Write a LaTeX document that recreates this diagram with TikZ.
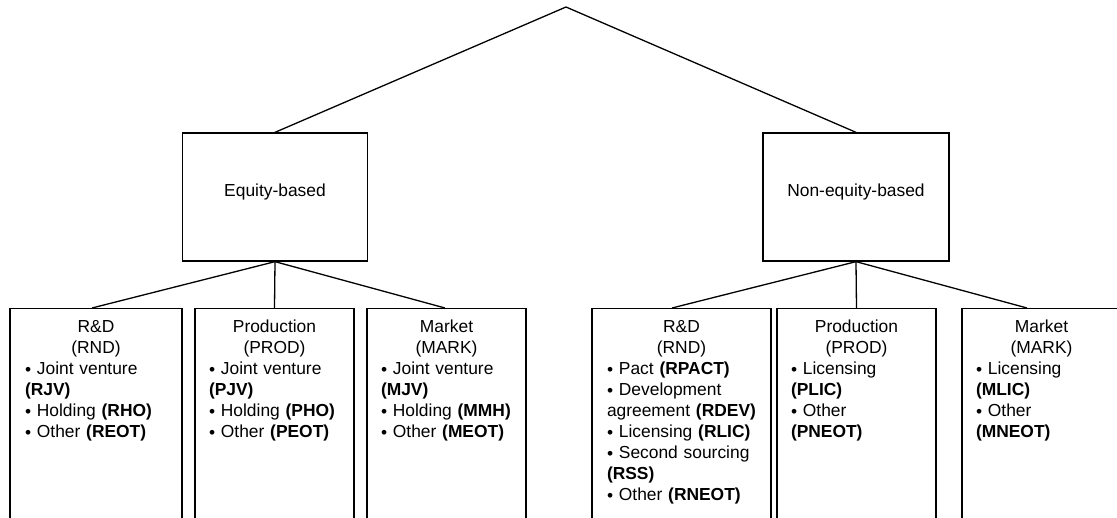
\documentclass[tikz,border=0pt]{standalone}
\usepackage{fontspec}
\setmainfont{Liberation Sans}
\usetikzlibrary{positioning}

\newcommand{\leafdot}{\raisebox{-1pt}{\textbullet}}

\tikzset{
  catbox/.style={draw, line width=1.3pt, minimum height=128pt, inner sep=0pt},
  leafbox/.style={draw, line width=1.3pt, minimum height=210pt, anchor=north, inner sep=0pt},
  leaftext/.style={anchor=base, align=left, inner sep=0pt},
  link/.style={line width=1.3pt}
}

\begin{document}
\begin{tikzpicture}[x=1pt, y=-1pt, font=\fontsize{17.4pt}{21pt}\selectfont]
            \clip (0,0) rectangle (1117,518);
            \coordinate (top) at (566,7);

            % two categories
            \node[catbox, minimum width=185pt] (eq) at (275,197) {};
            \node[anchor=base] (eqlabel) at (eq.center) {Equity-based};
            \node[catbox, minimum width=186pt] (neq) at (856,197) {};
            \node[anchor=base] (neqlabel) at (neq.center) {Non-equity-based};

            % equity-based leaves
            \node[leafbox, minimum width=172pt] (eqrnd) at (96,308) {};
            \node[leafbox, minimum width=159pt] (eqprod) at (274.5,308) {};
            \node[leafbox, minimum width=159pt] (eqmark) at (446.5,308) {};

            % non-equity-based leaves
            \node[leafbox, minimum width=179pt] (neqrnd) at (681.5,308) {};
            \node[leafbox, minimum width=159pt] (neqprod) at (856.5,308) {};
            \node[leafbox, minimum width=159pt] (neqmark) at (1041.5,308) {};

            \node[leaftext, text width=142pt] (eqrndtxt) at ([yshift=-25pt]eqrnd.north)
                {{\centering R\&D\\(RND)\par}
                 \leafdot{} Joint venture\\\textbf{(RJV)}\\
                 \leafdot{} Holding \textbf{(RHO)}\\
                 \leafdot{} Other \textbf{(REOT)}};
            \node[leaftext, text width=131pt] (eqprodtxt) at ([yshift=-25pt]eqprod.north)
                {{\centering Production\\(PROD)\par}
                 \leafdot{} Joint venture\\\textbf{(PJV)}\\
                 \leafdot{} Holding \textbf{(PHO)}\\
                 \leafdot{} Other \textbf{(PEOT)}};
            \node[leaftext, text width=131pt] (eqmarktxt) at ([yshift=-25pt]eqmark.north)
                {{\centering Market\\(MARK)\par}
                 \leafdot{} Joint venture\\\textbf{(MJV)}\\
                 \leafdot{} Holding \textbf{(MMH)}\\
                 \leafdot{} Other \textbf{(MEOT)}};
            \node[leaftext, text width=149pt] (neqrndtxt) at ([yshift=-25pt]neqrnd.north)
                {{\centering R\&D\\(RND)\par}
                 \leafdot{} Pact \textbf{(RPACT)}\\
                 \leafdot{} Development\\agreement \textbf{(RDEV)}\\
                 \leafdot{} Licensing \textbf{(RLIC)}\\
                 \leafdot{} Second sourcing\\\textbf{(RSS)}\\
                 \leafdot{} Other \textbf{(RNEOT)}};
            \node[leaftext, text width=131pt] (neqprodtxt) at ([yshift=-25pt]neqprod.north)
                {{\centering Production\\(PROD)\par}
                 \leafdot{} Licensing\\\textbf{(PLIC)}\\
                 \leafdot{} Other\\\textbf{(PNEOT)}};
            \node[leaftext, text width=131pt] (neqmarktxt) at ([yshift=-25pt]neqmark.north)
                {{\centering Market\\(MARK)\par}
                 \leafdot{} Licensing\\\textbf{(MLIC)}\\
                 \leafdot{} Other\\\textbf{(MNEOT)}};

            \draw[link] (eq.north) -- (top) -- (neq.north);

            \draw[link] (eq.south) -- ([xshift=-4pt]eqrnd.north);
            \draw[link] (eq.south) -- (eqprod.north);
            \draw[link] (eq.south) -- ([xshift=-1.5pt]eqmark.north);

            \draw[link] (neq.south) -- ([xshift=-9.5pt]neqrnd.north);
            \draw[link] (neq.south) -- (neqprod.north);
            \draw[link] (neq.south) -- ([xshift=-14.5pt]neqmark.north);
        \end{tikzpicture}
\end{document}
